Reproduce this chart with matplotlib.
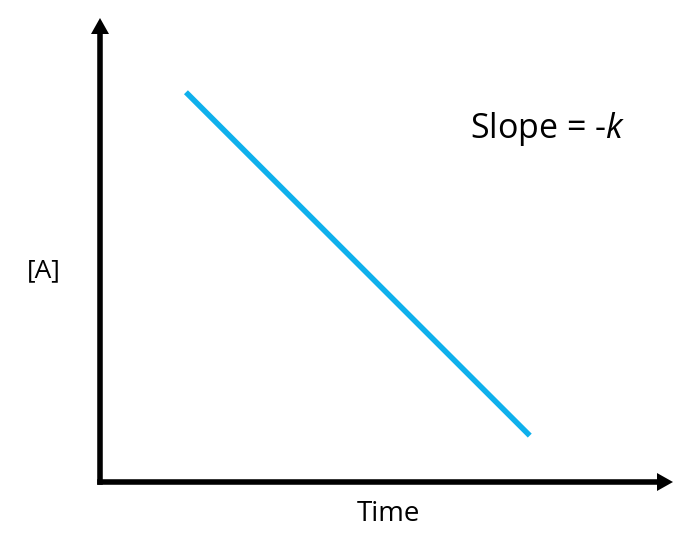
import matplotlib
matplotlib.use("Agg")
import matplotlib.pyplot as plt
from matplotlib.patches import Polygon

time = [1.5, 7.5]
conc = [8.4, 1.0]
x_label = "Time"
y_label = "[A]"
annotation = "Slope = -$\\mathit{k}$"

plt.rcParams['font.family'] = ['Open Sans', 'DejaVu Sans']
plt.rcParams['mathtext.fontset'] = 'custom'
plt.rcParams['mathtext.it'] = 'Open Sans:italic'

W, H = 693, 547
fig = plt.figure(figsize=(W/100, H/100), dpi=100)
L, R, B, T = 100, 673, 482, 18
aw, ah = R - L, B - T
ax = fig.add_axes([L/W, 1 - B/H, aw/W, ah/H])
ax.set_xlim(0, 10)
ax.set_ylim(0, 10)
ax.axis('off')

ax.plot(time, conc, color='#0FB0EC', lw=4.0, solid_capstyle='butt')

# axes with arrow heads
hl, hw = 16, 9
tr = ax.transAxes
ax.plot([0, 1 - hl/aw], [0, 0], color='black', lw=4.0, transform=tr,
        solid_capstyle='projecting', clip_on=False)
ax.plot([0, 0], [0, 1 - hl/ah], color='black', lw=4.0, transform=tr,
        solid_capstyle='projecting', clip_on=False)
ax.add_patch(Polygon([(1, 0), (1 - hl/aw, hw/ah), (1 - hl/aw, -hw/ah)],
                     closed=True, color='black', transform=tr, clip_on=False, lw=0))
ax.add_patch(Polygon([(0, 1), (hw/aw, 1 - hl/ah), (-hw/aw, 1 - hl/ah)],
                     closed=True, color='black', transform=tr, clip_on=False, lw=0))

fig.text(388/W, 1 - 514/H, x_label, fontsize=20, ha='center', va='center')
fig.text(44/W, 1 - 271/H, y_label, fontsize=19, ha='center', va='center')
fig.text(548/W, 1 - 129/H, annotation, fontsize=24.5, ha='center', va='center')

fig.savefig('out.png', dpi=100)
